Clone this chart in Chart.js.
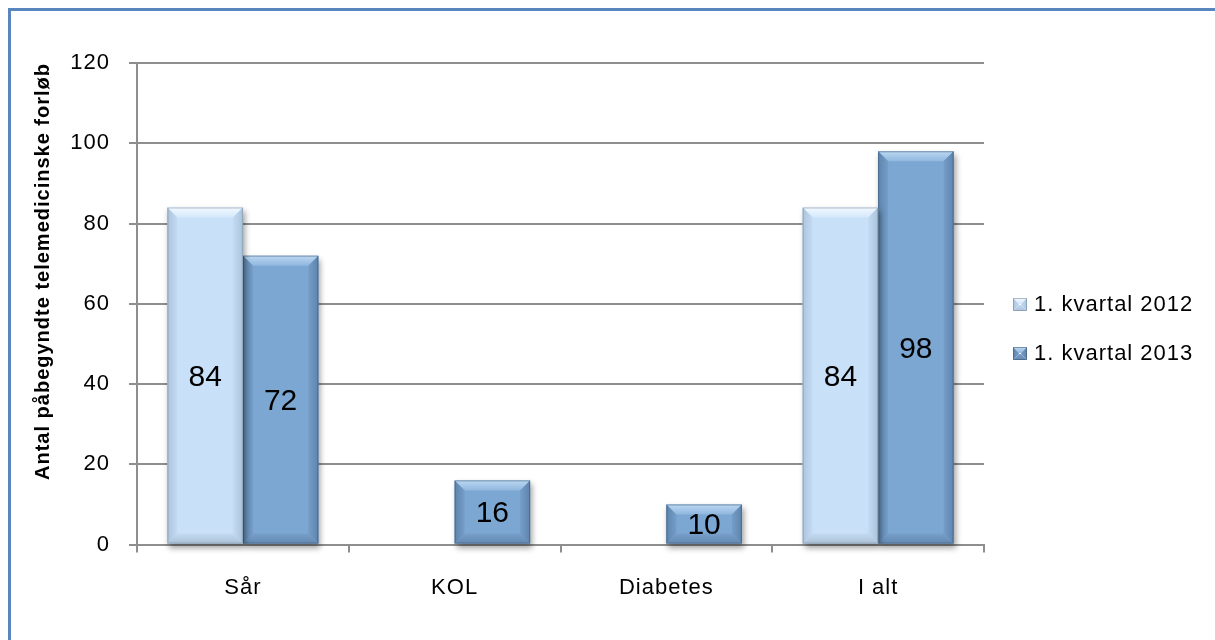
<!DOCTYPE html>
<html lang="da">
<head>
<meta charset="UTF-8">
<title>Påbegyndte telemedicinske forløb</title>
<script src="https://cdn.jsdelivr.net/npm/chart.js"></script>
<style>
    html, body { margin: 0; padding: 0; background: #fff; overflow: hidden; }
    .ramme { position: absolute; left: 8px; top: 8px; width: 1400px; height: 800px; border: 3px solid #5A86C0; }
    .graf { position: absolute; left: 0; top: 0; width: 1215px; height: 640px; }
</style>
</head>
<body>
<div class="ramme"></div>
<div class="graf"><canvas id="forloebChart"></canvas></div>

<script>
// Data
const kategorier = ['Sår', 'KOL', 'Diabetes', 'I alt'];
const serieNavne = ['1. kvartal 2012', '1. kvartal 2013'];
const kvartal2012 = [84, null, null, 84];
const kvartal2013 = [72, 16, 10, 98];
const yMin = 0, yMax = 120, yStep = 20;

// Farver til søjler med "skrå kant" effekt
const palet = [
    { fill: '#C8E1F8', topHi: '#F2F8FE', top: '#D4E9FB', side: '#C4DCF3', sideDark: '#ABC3DB',
      bottom: '#C2DAF1', bottomDark: '#ABC1D7', edge: 'rgba(110,130,150,0.5)' },
    { fill: '#7CA7D2', topHi: '#BCD8F2', top: '#90B7DE', side: '#749DC8', sideDark: '#5E84AC',
      bottom: '#779FCA', bottomDark: '#6488B0', edge: 'rgba(50,80,110,0.5)' }
];

const fontFamily = '"Liberation Sans", Arial, sans-serif';
const spacing = '1px';
Chart.defaults.font.family = fontFamily;
Chart.defaults.color = '#000';

function poly(ctx, pts, fill) {
    ctx.beginPath();
    ctx.moveTo(pts[0][0], pts[0][1]);
    for (let i = 1; i < pts.length; i++) ctx.lineTo(pts[i][0], pts[i][1]);
    ctx.closePath();
    ctx.fillStyle = fill;
    ctx.fill();
}

function tegnKant(ctx, l, t, r, bot, p, s) {
    const w = r - l, h = bot - t;
    s = Math.min(s, w / 2, h / 2);
    ctx.save();
    let g = ctx.createLinearGradient(0, t, 0, t + s);
    g.addColorStop(0, p.topHi); g.addColorStop(1, p.top);
    poly(ctx, [[l, t], [r, t], [r - s, t + s], [l + s, t + s]], g);
    g = ctx.createLinearGradient(l, 0, l + s, 0);
    g.addColorStop(0, p.sideDark); g.addColorStop(1, p.side);
    poly(ctx, [[l, t], [l + s, t + s], [l + s, bot - s], [l, bot]], g);
    g = ctx.createLinearGradient(r, 0, r - s, 0);
    g.addColorStop(0, p.sideDark); g.addColorStop(1, p.side);
    poly(ctx, [[r, t], [r, bot], [r - s, bot - s], [r - s, t + s]], g);
    g = ctx.createLinearGradient(0, bot, 0, bot - s);
    g.addColorStop(0, p.bottomDark); g.addColorStop(1, p.bottom);
    poly(ctx, [[l, bot], [l + s, bot - s], [r - s, bot - s], [r, bot]], g);
    ctx.strokeStyle = p.edge;
    ctx.lineWidth = 1;
    ctx.strokeRect(l + 0.5, t + 0.5, w - 1, h - 1);
    ctx.restore();
}

// Skygge, kanter og værdier på søjlerne
const soejleEffekt = {
    id: 'soejleEffekt',
    beforeUpdate(chart) { chart.ctx.letterSpacing = spacing; },
    beforeDraw(chart) { chart.ctx.letterSpacing = spacing; },
    beforeDatasetDraw(chart) {
        const ctx = chart.ctx;
        ctx.save();
        ctx.shadowColor = 'rgba(0,0,0,0.38)';
        ctx.shadowBlur = 6;
        ctx.shadowOffsetX = 2;
        ctx.shadowOffsetY = 4;
    },
    afterDatasetDraw(chart, args) {
        const ctx = chart.ctx;
        ctx.restore();
        const p = palet[args.index];
        args.meta.data.forEach((el, i) => {
            if (chart.data.datasets[args.index].data[i] == null) return;
            const { x, y, base, width } = el.getProps(['x', 'y', 'base', 'width'], true);
            tegnKant(ctx, x - width / 2, y, x + width / 2, base, p, 10);
        });
    },
    afterDatasetsDraw(chart) {
        const ctx = chart.ctx;
        ctx.save();
        ctx.letterSpacing = '0px';
        ctx.font = '30px ' + fontFamily;
        ctx.fillStyle = '#000';
        ctx.textAlign = 'center';
        ctx.textBaseline = 'middle';
        chart.data.datasets.forEach((ds, di) => {
            chart.getDatasetMeta(di).data.forEach((el, i) => {
                const v = ds.data[i];
                if (v == null) return;
                const { x, y, base } = el.getProps(['x', 'y', 'base'], true);
                ctx.fillText(String(v), x, (y + base) / 2 + 2);
            });
        });
        ctx.restore();
    }
};

// Forklaring til højre
const forklaring = {
    id: 'forklaring',
    afterDraw(chart) {
        const ctx = chart.ctx;
        ctx.save();
        ctx.font = '22px ' + fontFamily;
        ctx.fillStyle = '#000';
        ctx.textAlign = 'left';
        ctx.textBaseline = 'middle';
        chart.data.datasets.forEach((ds, i) => {
            const cy = 305 + i * 49;
            tegnKant(ctx, 1013, cy - 7, 1027, cy + 6, palet[i], 6);
            ctx.fillText(ds.label, 1034, cy);
        });
        ctx.restore();
    }
};

const gitter = '#8E8E8E';

new Chart(document.getElementById('forloebChart'), {
    type: 'bar',
    data: {
        labels: kategorier,
        datasets: [
            { label: serieNavne[0], data: kvartal2012, backgroundColor: palet[0].fill, clip: false },
            { label: serieNavne[1], data: kvartal2013, backgroundColor: palet[1].fill, clip: false }
        ]
    },
    options: {
        responsive: true,
        maintainAspectRatio: false,
        animation: false,
        categoryPercentage: 0.713,
        barPercentage: 1,
        layout: { padding: { left: 0, top: 63, right: 231, bottom: 17 } },
        plugins: {
            legend: { display: false },
            tooltip: { enabled: false }
        },
        scales: {
            x: {
                grid: { offset: true, drawOnChartArea: false, tickLength: 8, color: gitter, lineWidth: 2 },
                border: { color: gitter, width: 2 },
                ticks: { font: { size: 22 }, color: '#000', padding: 22 }
            },
            y: {
                min: yMin,
                max: yMax,
                ticks: { stepSize: yStep, font: { size: 22 }, color: '#000', padding: 19 },
                grid: { color: gitter, lineWidth: 2, tickLength: 8 },
                border: { color: gitter, width: 2 },
                title: {
                    display: true,
                    text: 'Antal påbegyndte telemedicinske forløb',
                    font: { size: 20, weight: 'bold' },
                    color: '#000',
                    align: 'end',
                    padding: { top: 31, bottom: 0 }
                },
                afterFit(scale) { scale.width = 137; }
            }
        }
    },
    plugins: [soejleEffekt, forklaring]
});
</script>
</body>
</html>
